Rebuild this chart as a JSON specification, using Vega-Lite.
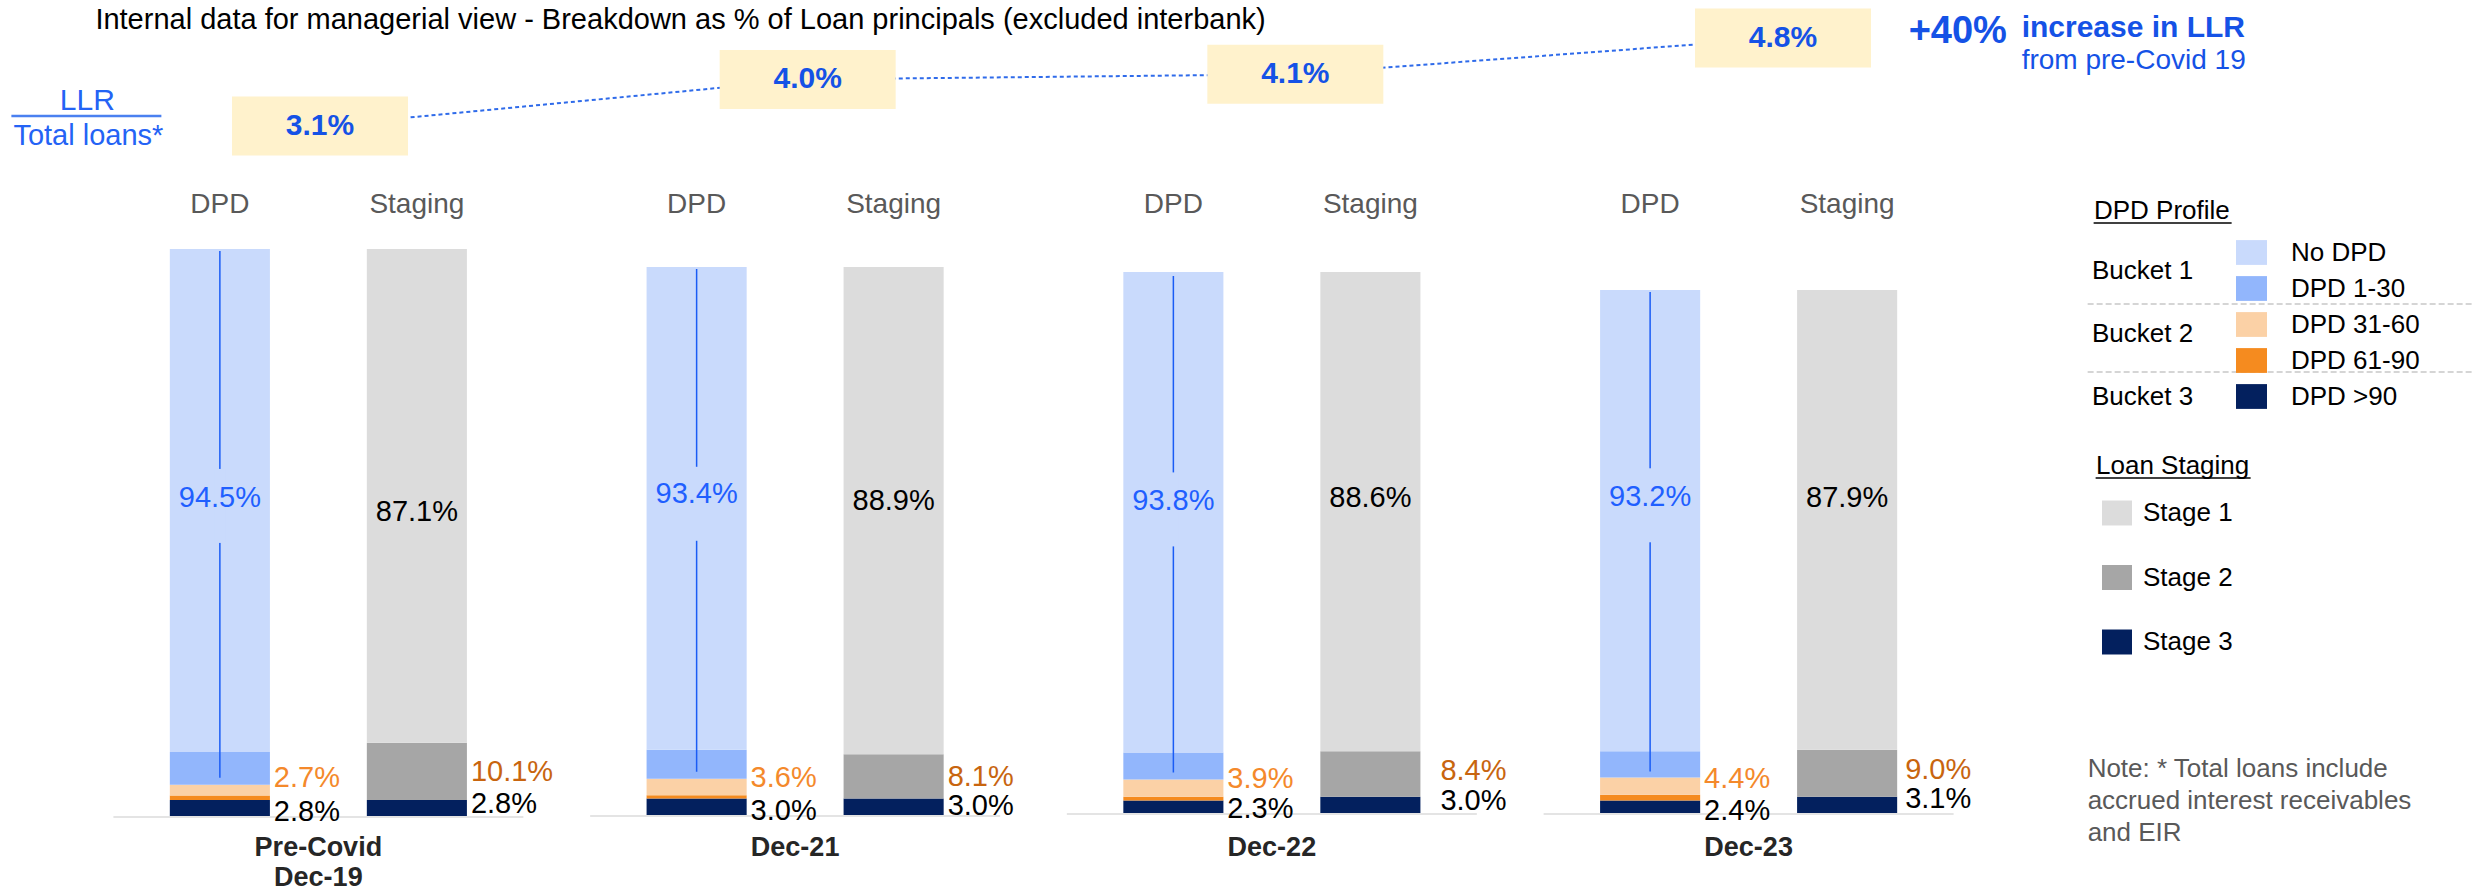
{
  "$schema": "https://vega.github.io/schema/vega-lite/v6.json",
  "width": 2484,
  "height": 891,
  "padding": 0,
  "autosize": {"type": "none"},
  "background": "#ffffff",
  "config": {
    "view": {"stroke": null},
    "font": "Liberation Sans",
    "legend": {"labelFont": "Liberation Sans", "titleFont": "Liberation Sans", "labelFontSize": 26, "titleFontSize": 26, "titleFontWeight": "normal", "labelColor": "#000000", "titleColor": "#000000", "padding": 0, "labelLimit": 400, "symbolStrokeWidth": 0}
  },
  "datasets": {
    "seg": [
      {"period": "Pre-Covid Dec-19", "bar": "DPD", "bucket": "Bucket 3", "segment": "DPD >90", "seq": 1, "value": 0.028},
      {"period": "Pre-Covid Dec-19", "bar": "DPD", "bucket": "Bucket 2", "segment": "DPD 61-90", "seq": 2, "value": 0.008},
      {"period": "Pre-Covid Dec-19", "bar": "DPD", "bucket": "Bucket 2", "segment": "DPD 31-60", "seq": 3, "value": 0.019},
      {"period": "Pre-Covid Dec-19", "bar": "DPD", "bucket": "Bucket 1", "segment": "DPD 1-30", "seq": 4, "value": 0.058},
      {"period": "Pre-Covid Dec-19", "bar": "DPD", "bucket": "Bucket 1", "segment": "No DPD", "seq": 5, "value": 0.887},
      {"period": "Pre-Covid Dec-19", "bar": "Staging", "segment": "Stage 3", "seq": 1, "value": 0.028},
      {"period": "Pre-Covid Dec-19", "bar": "Staging", "segment": "Stage 2", "seq": 2, "value": 0.101},
      {"period": "Pre-Covid Dec-19", "bar": "Staging", "segment": "Stage 1", "seq": 3, "value": 0.871},
      {"period": "Dec-21", "bar": "DPD", "bucket": "Bucket 3", "segment": "DPD >90", "seq": 1, "value": 0.030},
      {"period": "Dec-21", "bar": "DPD", "bucket": "Bucket 2", "segment": "DPD 61-90", "seq": 2, "value": 0.006},
      {"period": "Dec-21", "bar": "DPD", "bucket": "Bucket 2", "segment": "DPD 31-60", "seq": 3, "value": 0.030},
      {"period": "Dec-21", "bar": "DPD", "bucket": "Bucket 1", "segment": "DPD 1-30", "seq": 4, "value": 0.053},
      {"period": "Dec-21", "bar": "DPD", "bucket": "Bucket 1", "segment": "No DPD", "seq": 5, "value": 0.881},
      {"period": "Dec-21", "bar": "Staging", "segment": "Stage 3", "seq": 1, "value": 0.030},
      {"period": "Dec-21", "bar": "Staging", "segment": "Stage 2", "seq": 2, "value": 0.081},
      {"period": "Dec-21", "bar": "Staging", "segment": "Stage 1", "seq": 3, "value": 0.889},
      {"period": "Dec-22", "bar": "DPD", "bucket": "Bucket 3", "segment": "DPD >90", "seq": 1, "value": 0.023},
      {"period": "Dec-22", "bar": "DPD", "bucket": "Bucket 2", "segment": "DPD 61-90", "seq": 2, "value": 0.007},
      {"period": "Dec-22", "bar": "DPD", "bucket": "Bucket 2", "segment": "DPD 31-60", "seq": 3, "value": 0.032},
      {"period": "Dec-22", "bar": "DPD", "bucket": "Bucket 1", "segment": "DPD 1-30", "seq": 4, "value": 0.050},
      {"period": "Dec-22", "bar": "DPD", "bucket": "Bucket 1", "segment": "No DPD", "seq": 5, "value": 0.888},
      {"period": "Dec-22", "bar": "Staging", "segment": "Stage 3", "seq": 1, "value": 0.030},
      {"period": "Dec-22", "bar": "Staging", "segment": "Stage 2", "seq": 2, "value": 0.084},
      {"period": "Dec-22", "bar": "Staging", "segment": "Stage 1", "seq": 3, "value": 0.886},
      {"period": "Dec-23", "bar": "DPD", "bucket": "Bucket 3", "segment": "DPD >90", "seq": 1, "value": 0.024},
      {"period": "Dec-23", "bar": "DPD", "bucket": "Bucket 2", "segment": "DPD 61-90", "seq": 2, "value": 0.011},
      {"period": "Dec-23", "bar": "DPD", "bucket": "Bucket 2", "segment": "DPD 31-60", "seq": 3, "value": 0.033},
      {"period": "Dec-23", "bar": "DPD", "bucket": "Bucket 1", "segment": "DPD 1-30", "seq": 4, "value": 0.050},
      {"period": "Dec-23", "bar": "DPD", "bucket": "Bucket 1", "segment": "No DPD", "seq": 5, "value": 0.882},
      {"period": "Dec-23", "bar": "Staging", "segment": "Stage 3", "seq": 1, "value": 0.031},
      {"period": "Dec-23", "bar": "Staging", "segment": "Stage 2", "seq": 2, "value": 0.090},
      {"period": "Dec-23", "bar": "Staging", "segment": "Stage 1", "seq": 3, "value": 0.879}
    ],
    "llr": [
      {"period": "Pre-Covid Dec-19", "llr": 0.031},
      {"period": "Dec-21", "llr": 0.040},
      {"period": "Dec-22", "llr": 0.041},
      {"period": "Dec-23", "llr": 0.048}
    ],
    "notes": [
      {"id": "title", "text": "Internal data for managerial view -  Breakdown as % of Loan principals (excluded interbank)"},
      {"id": "llr", "text": "LLR"},
      {"id": "tot", "text": "Total loans*"},
      {"id": "plus", "text": "+40%"},
      {"id": "inc", "text": "increase in LLR"},
      {"id": "from", "text": "from pre-Covid 19"},
      {"id": "note", "text": "Note: * Total loans include\naccrued interest receivables\nand EIR"}
    ]
  },
  "data": {"name": "seg"},
  "resolve": {"scale": {"x": "independent", "y": "independent"}},
  "layer": [
    {
      "encoding": {"x": {"field": "period", "type": "nominal", "scale": {"type": "band", "domain": ["Pre-Covid Dec-19", "Dec-21", "Dec-22", "Dec-23"], "range": [80, 1987], "paddingInner": 0, "paddingOuter": 0}, "axis": null}},
      "layer": [
        {
          "transform": [{"aggregate": [{"op": "count", "as": "n"}], "groupby": ["period", "bar"]}],
          "mark": {"type": "text", "fontSize": 28, "color": "#595959", "baseline": "alphabetic", "dy": -36},
          "encoding": {
            "xOffset": {"field": "bar", "type": "nominal", "scale": {"type": "band", "domain": ["DPD", "Staging"], "paddingInner": 0.492, "paddingOuter": 0.456}},
            "y": {"datum": 1, "type": "quantitative", "scale": {"domain": [0, 1], "range": [816, 249], "nice": false}, "axis": null},
            "text": {"field": "bar", "type": "nominal"}
          }
        },
        {
          "transform": [{"aggregate": [{"op": "count", "as": "n"}], "groupby": ["period"]}],
          "mark": {"type": "text", "fontSize": 27, "fontWeight": "bold", "color": "#262626", "baseline": "middle", "lineBreak": " ", "lineHeight": 30, "dy": 32},
          "encoding": {
            "y": {"datum": 0, "type": "quantitative"},
            "text": {"field": "period", "type": "nominal"}
          }
        },
        {
          "data": {"name": "notes"},
          "transform": [{"filter": "datum.id === 'note'"}],
          "mark": {"type": "text", "align": "left", "baseline": "alphabetic", "fontSize": 26, "color": "#595959", "lineBreak": "\n", "lineHeight": 32, "dx": 339, "dy": -39},
          "encoding": {"x": {"datum": "Dec-23", "type": "nominal"}, "y": {"datum": 0, "type": "quantitative"}, "text": {"field": "text", "type": "nominal"}}
        },
        {
          "data": {"name": "notes"},
          "transform": [{"filter": "datum.id === 'title'"}],
          "mark": {"type": "text", "align": "left", "baseline": "alphabetic", "fontSize": 29, "color": "#000000", "dx": -223, "dy": -220},
          "encoding": {"x": {"datum": "Pre-Covid Dec-19", "type": "nominal"}, "y": {"datum": 1, "type": "quantitative"}, "text": {"field": "text", "type": "nominal"}}
        },
        {
          "data": {"name": "notes"},
          "transform": [{"filter": "datum.id === 'llr'"}],
          "mark": {"type": "text", "align": "center", "baseline": "alphabetic", "fontSize": 30, "color": "#2463f5", "dx": -231, "dy": -139},
          "encoding": {"x": {"datum": "Pre-Covid Dec-19", "type": "nominal"}, "y": {"datum": 1, "type": "quantitative"}, "text": {"field": "text", "type": "nominal"}}
        },
        {
          "data": {"name": "notes"},
          "transform": [{"filter": "datum.id === 'llr'"}],
          "mark": {"type": "rule", "color": "#4a80f0", "strokeWidth": 2.5, "xOffset": -307, "x2Offset": -157, "yOffset": -133},
          "encoding": {"x": {"datum": "Pre-Covid Dec-19", "type": "nominal"}, "x2": {"datum": "Pre-Covid Dec-19"}, "y": {"datum": 1, "type": "quantitative"}}
        },
        {
          "data": {"name": "notes"},
          "transform": [{"filter": "datum.id === 'tot'"}],
          "mark": {"type": "text", "align": "center", "baseline": "alphabetic", "fontSize": 29, "color": "#2463f5", "dx": -230, "dy": -104},
          "encoding": {"x": {"datum": "Pre-Covid Dec-19", "type": "nominal"}, "y": {"datum": 1, "type": "quantitative"}, "text": {"field": "text", "type": "nominal"}}
        },
        {
          "data": {"name": "notes"},
          "transform": [{"filter": "datum.id === 'plus'"}],
          "mark": {"type": "text", "align": "left", "baseline": "alphabetic", "fontSize": 38, "fontWeight": "bold", "color": "#1552e6", "dx": 160, "dy": -206},
          "encoding": {"x": {"datum": "Dec-23", "type": "nominal"}, "y": {"datum": 1, "type": "quantitative"}, "text": {"field": "text", "type": "nominal"}}
        },
        {
          "data": {"name": "notes"},
          "transform": [{"filter": "datum.id === 'inc'"}],
          "mark": {"type": "text", "align": "left", "baseline": "alphabetic", "fontSize": 30, "fontWeight": "bold", "color": "#1552e6", "dx": 273, "dy": -212},
          "encoding": {"x": {"datum": "Dec-23", "type": "nominal"}, "y": {"datum": 1, "type": "quantitative"}, "text": {"field": "text", "type": "nominal"}}
        },
        {
          "data": {"name": "notes"},
          "transform": [{"filter": "datum.id === 'from'"}],
          "mark": {"type": "text", "align": "left", "baseline": "alphabetic", "fontSize": 28, "color": "#1552e6", "dx": 273, "dy": -180},
          "encoding": {"x": {"datum": "Dec-23", "type": "nominal"}, "y": {"datum": 1, "type": "quantitative"}, "text": {"field": "text", "type": "nominal"}}
        },
        {
          "data": {"name": "notes"},
          "transform": [{"filter": "datum.id === 'note'"}],
          "mark": {"type": "rule", "color": "#c8c8c8", "strokeWidth": 1.5, "strokeDash": [6, 3], "xOffset": 339, "x2Offset": 723, "yOffset": 55},
          "encoding": {"x": {"datum": "Dec-23", "type": "nominal"}, "x2": {"datum": "Dec-23"}, "y": {"datum": 1, "type": "quantitative"}}
        },
        {
          "data": {"name": "notes"},
          "transform": [{"filter": "datum.id === 'note'"}],
          "mark": {"type": "rule", "color": "#c8c8c8", "strokeWidth": 1.5, "strokeDash": [6, 3], "xOffset": 339, "x2Offset": 723, "yOffset": 123},
          "encoding": {"x": {"datum": "Dec-23", "type": "nominal"}, "x2": {"datum": "Dec-23"}, "y": {"datum": 1, "type": "quantitative"}}
        },
        {
          "data": {"name": "notes"},
          "transform": [{"filter": "datum.id === 'note'"}],
          "mark": {"type": "rule", "color": "#000000", "strokeWidth": 1.5, "xOffset": 345, "x2Offset": 483, "yOffset": -26},
          "encoding": {"x": {"datum": "Dec-23", "type": "nominal"}, "x2": {"datum": "Dec-23"}, "y": {"datum": 1, "type": "quantitative"}}
        },
        {
          "data": {"name": "notes"},
          "transform": [{"filter": "datum.id === 'note'"}],
          "mark": {"type": "rule", "color": "#000000", "strokeWidth": 1.5, "xOffset": 347, "x2Offset": 502, "yOffset": 229},
          "encoding": {"x": {"datum": "Dec-23", "type": "nominal"}, "x2": {"datum": "Dec-23"}, "y": {"datum": 1, "type": "quantitative"}}
        }
      ]
    },
    {
      "transform": [{"filter": "datum.period === 'Pre-Covid Dec-19'"}],
      "encoding": {"x": {"field": "period", "type": "nominal", "scale": {"type": "band", "domain": ["Pre-Covid Dec-19", "Dec-21", "Dec-22", "Dec-23"], "range": [80, 1987], "paddingInner": 0, "paddingOuter": 0}, "axis": null}},
      "layer": [
        {
          "transform": [{"aggregate": [{"op": "count", "as": "n"}], "groupby": ["period"]}],
          "mark": {"type": "tick", "color": "#d9d9d9", "thickness": 2, "size": 410, "yOffset": 1},
          "encoding": {"y": {"datum": 0, "type": "quantitative", "scale": {"domain": [0, 1], "range": [816, 249], "nice": false}, "axis": null}}
        },
        {
          "transform": [{"filter": "datum.bar === 'DPD'"}],
          "mark": {"type": "bar"},
          "encoding": {
            "xOffset": {"field": "bar", "type": "nominal", "scale": {"type": "band", "domain": ["DPD", "Staging"], "paddingInner": 0.492, "paddingOuter": 0.456}},
            "y": {"field": "value", "type": "quantitative", "stack": "zero", "axis": null},
            "order": {"field": "seq", "type": "quantitative"},
            "color": {"field": "segment", "type": "nominal", "scale": {"domain": ["No DPD", "DPD 1-30", "DPD 31-60", "DPD 61-90", "DPD >90"], "range": ["#c9dafc", "#92b6fc", "#fbd1a6", "#f58b1f", "#03205e"]}, "legend": {"title": "DPD Profile", "orient": "none", "legendX": 2094, "legendY": 198, "symbolType": "M-1,-0.8H1V0.8H-1Z", "symbolSize": 961, "symbolOffset": 142, "labelOffset": 24, "rowPadding": 7, "titlePadding": 13}},
            "strokeDash": {"field": "bucket", "type": "nominal", "scale": {"domain": ["Bucket 1", "Bucket 2", "Bucket 3"], "range": [[1, 0], [1, 0], [1, 0]]}, "legend": {"title": null, "orient": "none", "legendX": 2066, "legendY": 258, "symbolType": "circle", "symbolSize": 1, "symbolOpacity": 0, "labelOffset": 0, "rowPadding": 37}}
          }
        },
        {
          "transform": [{"filter": "datum.bar === 'Staging'"}],
          "mark": {"type": "bar"},
          "encoding": {
            "xOffset": {"field": "bar", "type": "nominal"},
            "y": {"field": "value", "type": "quantitative", "stack": "zero", "axis": null},
            "order": {"field": "seq", "type": "quantitative"},
            "fill": {"field": "segment", "type": "nominal", "scale": {"domain": ["Stage 1", "Stage 2", "Stage 3"], "range": ["#dcdcdc", "#a6a6a6", "#03205e"]}, "legend": {"title": "Loan Staging", "orient": "none", "legendX": 2096, "legendY": 453, "symbolType": "M-1,-0.833H1V0.833H-1Z", "symbolSize": 900, "symbolOffset": 6, "labelOffset": 11, "rowPadding": 36.5, "titlePadding": 19}}
          }
        },
        {
          "transform": [{"filter": "datum.bar === 'DPD'"}, {"stack": "value", "groupby": ["period"], "sort": [{"field": "seq", "order": "ascending"}], "as": ["v0", "v1"]}, {"filter": "datum.segment === 'DPD 1-30'"}],
          "mark": {"type": "rule", "color": "#1a5cf5", "strokeWidth": 1.5, "yOffset": -7, "y2Offset": 2},
          "encoding": {"xOffset": {"field": "bar", "type": "nominal"}, "y": {"field": "v0", "type": "quantitative"}, "y2": {"datum": 1}}
        },
        {
          "transform": [{"filter": "datum.bar === 'DPD'"}, {"joinaggregate": [{"op": "sum", "field": "value", "as": "tot"}], "groupby": ["period", "bucket"]}, {"stack": "value", "groupby": ["period"], "sort": [{"field": "seq", "order": "ascending"}], "as": ["v0", "v1"]}],
          "encoding": {"xOffset": {"field": "bar", "type": "nominal"}, "y": {"field": "v0", "type": "quantitative"}},
          "layer": [
            {"transform": [{"filter": "datum.segment === 'No DPD'"}], "mark": {"type": "point", "filled": true, "opacity": 1, "shape": "M-0.15,-1H0.15V1H-0.15Z", "size": 5476, "color": "#c9dafc", "strokeWidth": 0, "yOffset": -246}},
            {"transform": [{"filter": "datum.segment === 'No DPD'"}], "mark": {"type": "text", "fontSize": 29, "color": "#1f5fff", "baseline": "middle", "dy": -254}, "encoding": {"text": {"field": "tot", "type": "quantitative", "format": ".1%"}}},
            {"transform": [{"filter": "datum.segment === 'DPD 31-60'"}], "mark": {"type": "text", "fontSize": 29, "color": "#f4892b", "align": "left", "baseline": "alphabetic", "dx": 54, "dy": -9}, "encoding": {"text": {"field": "tot", "type": "quantitative", "format": ".1%"}}},
            {"transform": [{"filter": "datum.segment === 'DPD >90'"}], "mark": {"type": "text", "fontSize": 29, "color": "#000000", "align": "left", "baseline": "middle", "dx": 54, "dy": -4}, "encoding": {"text": {"field": "value", "type": "quantitative", "format": ".1%"}}}
          ]
        },
        {
          "transform": [{"filter": "datum.bar === 'Staging'"}, {"stack": "value", "groupby": ["period"], "sort": [{"field": "seq", "order": "ascending"}], "as": ["v0", "v1"]}],
          "encoding": {"xOffset": {"field": "bar", "type": "nominal"}, "y": {"field": "v0", "type": "quantitative"}},
          "layer": [
            {"transform": [{"filter": "datum.segment === 'Stage 1'"}], "mark": {"type": "text", "fontSize": 29, "color": "#000000", "baseline": "middle", "dy": -231}, "encoding": {"text": {"field": "value", "type": "quantitative", "format": ".1%"}}},
            {"transform": [{"filter": "datum.segment === 'Stage 2'"}], "mark": {"type": "text", "fontSize": 29, "color": "#c8650f", "align": "left", "baseline": "middle", "dx": 54, "dy": -28}, "encoding": {"text": {"field": "value", "type": "quantitative", "format": ".1%"}}},
            {"transform": [{"filter": "datum.segment === 'Stage 3'"}], "mark": {"type": "text", "fontSize": 29, "color": "#000000", "align": "left", "baseline": "middle", "dx": 54, "dy": -12}, "encoding": {"text": {"field": "value", "type": "quantitative", "format": ".1%"}}}
          ]
        }
      ]
    },
    {
      "transform": [{"filter": "datum.period === 'Dec-21'"}],
      "encoding": {"x": {"field": "period", "type": "nominal", "scale": {"type": "band", "domain": ["Pre-Covid Dec-19", "Dec-21", "Dec-22", "Dec-23"], "range": [80, 1987], "paddingInner": 0, "paddingOuter": 0}, "axis": null}},
      "layer": [
        {
          "transform": [{"aggregate": [{"op": "count", "as": "n"}], "groupby": ["period"]}],
          "mark": {"type": "tick", "color": "#d9d9d9", "thickness": 2, "size": 410, "yOffset": 1},
          "encoding": {"y": {"datum": 0, "type": "quantitative", "scale": {"domain": [0, 1], "range": [815, 267], "nice": false}, "axis": null}}
        },
        {
          "transform": [{"filter": "datum.bar === 'DPD'"}],
          "mark": {"type": "bar"},
          "encoding": {
            "xOffset": {"field": "bar", "type": "nominal", "scale": {"type": "band", "domain": ["DPD", "Staging"], "paddingInner": 0.492, "paddingOuter": 0.456}},
            "y": {"field": "value", "type": "quantitative", "stack": "zero", "axis": null},
            "order": {"field": "seq", "type": "quantitative"},
            "color": {"field": "segment", "type": "nominal", "scale": {"domain": ["No DPD", "DPD 1-30", "DPD 31-60", "DPD 61-90", "DPD >90"], "range": ["#c9dafc", "#92b6fc", "#fbd1a6", "#f58b1f", "#03205e"]}, "legend": {"title": "DPD Profile", "orient": "none", "legendX": 2094, "legendY": 198, "symbolType": "M-1,-0.8H1V0.8H-1Z", "symbolSize": 961, "symbolOffset": 142, "labelOffset": 24, "rowPadding": 7, "titlePadding": 13}},
            "strokeDash": {"field": "bucket", "type": "nominal", "scale": {"domain": ["Bucket 1", "Bucket 2", "Bucket 3"], "range": [[1, 0], [1, 0], [1, 0]]}, "legend": {"title": null, "orient": "none", "legendX": 2066, "legendY": 258, "symbolType": "circle", "symbolSize": 1, "symbolOpacity": 0, "labelOffset": 0, "rowPadding": 37}}
          }
        },
        {
          "transform": [{"filter": "datum.bar === 'Staging'"}],
          "mark": {"type": "bar"},
          "encoding": {
            "xOffset": {"field": "bar", "type": "nominal"},
            "y": {"field": "value", "type": "quantitative", "stack": "zero", "axis": null},
            "order": {"field": "seq", "type": "quantitative"},
            "fill": {"field": "segment", "type": "nominal", "scale": {"domain": ["Stage 1", "Stage 2", "Stage 3"], "range": ["#dcdcdc", "#a6a6a6", "#03205e"]}, "legend": {"title": "Loan Staging", "orient": "none", "legendX": 2096, "legendY": 453, "symbolType": "M-1,-0.833H1V0.833H-1Z", "symbolSize": 900, "symbolOffset": 6, "labelOffset": 11, "rowPadding": 36.5, "titlePadding": 19}}
          }
        },
        {
          "transform": [{"filter": "datum.bar === 'DPD'"}, {"stack": "value", "groupby": ["period"], "sort": [{"field": "seq", "order": "ascending"}], "as": ["v0", "v1"]}, {"filter": "datum.segment === 'DPD 1-30'"}],
          "mark": {"type": "rule", "color": "#1a5cf5", "strokeWidth": 1.5, "yOffset": -7, "y2Offset": 2},
          "encoding": {"xOffset": {"field": "bar", "type": "nominal"}, "y": {"field": "v0", "type": "quantitative"}, "y2": {"datum": 1}}
        },
        {
          "transform": [{"filter": "datum.bar === 'DPD'"}, {"joinaggregate": [{"op": "sum", "field": "value", "as": "tot"}], "groupby": ["period", "bucket"]}, {"stack": "value", "groupby": ["period"], "sort": [{"field": "seq", "order": "ascending"}], "as": ["v0", "v1"]}],
          "encoding": {"xOffset": {"field": "bar", "type": "nominal"}, "y": {"field": "v0", "type": "quantitative"}},
          "layer": [
            {"transform": [{"filter": "datum.segment === 'No DPD'"}], "mark": {"type": "point", "filled": true, "opacity": 1, "shape": "M-0.15,-1H0.15V1H-0.15Z", "size": 5476, "color": "#c9dafc", "strokeWidth": 0, "yOffset": -246}},
            {"transform": [{"filter": "datum.segment === 'No DPD'"}], "mark": {"type": "text", "fontSize": 29, "color": "#1f5fff", "baseline": "middle", "dy": -256}, "encoding": {"text": {"field": "tot", "type": "quantitative", "format": ".1%"}}},
            {"transform": [{"filter": "datum.segment === 'DPD 31-60'"}], "mark": {"type": "text", "fontSize": 29, "color": "#f4892b", "align": "left", "baseline": "alphabetic", "dx": 54, "dy": -8}, "encoding": {"text": {"field": "tot", "type": "quantitative", "format": ".1%"}}},
            {"transform": [{"filter": "datum.segment === 'DPD >90'"}], "mark": {"type": "text", "fontSize": 29, "color": "#000000", "align": "left", "baseline": "middle", "dx": 54, "dy": -4}, "encoding": {"text": {"field": "value", "type": "quantitative", "format": ".1%"}}}
          ]
        },
        {
          "transform": [{"filter": "datum.bar === 'Staging'"}, {"stack": "value", "groupby": ["period"], "sort": [{"field": "seq", "order": "ascending"}], "as": ["v0", "v1"]}],
          "encoding": {"xOffset": {"field": "bar", "type": "nominal"}, "y": {"field": "v0", "type": "quantitative"}},
          "layer": [
            {"transform": [{"filter": "datum.segment === 'Stage 1'"}], "mark": {"type": "text", "fontSize": 29, "color": "#000000", "baseline": "middle", "dy": -253}, "encoding": {"text": {"field": "value", "type": "quantitative", "format": ".1%"}}},
            {"transform": [{"filter": "datum.segment === 'Stage 2'"}], "mark": {"type": "text", "fontSize": 29, "color": "#c8650f", "align": "left", "baseline": "middle", "dx": 54, "dy": -22}, "encoding": {"text": {"field": "value", "type": "quantitative", "format": ".1%"}}},
            {"transform": [{"filter": "datum.segment === 'Stage 3'"}], "mark": {"type": "text", "fontSize": 29, "color": "#000000", "align": "left", "baseline": "middle", "dx": 54, "dy": -9}, "encoding": {"text": {"field": "value", "type": "quantitative", "format": ".1%"}}}
          ]
        }
      ]
    },
    {
      "transform": [{"filter": "datum.period === 'Dec-22'"}],
      "encoding": {"x": {"field": "period", "type": "nominal", "scale": {"type": "band", "domain": ["Pre-Covid Dec-19", "Dec-21", "Dec-22", "Dec-23"], "range": [80, 1987], "paddingInner": 0, "paddingOuter": 0}, "axis": null}},
      "layer": [
        {
          "transform": [{"aggregate": [{"op": "count", "as": "n"}], "groupby": ["period"]}],
          "mark": {"type": "tick", "color": "#d9d9d9", "thickness": 2, "size": 410, "yOffset": 1},
          "encoding": {"y": {"datum": 0, "type": "quantitative", "scale": {"domain": [0, 1], "range": [813, 272], "nice": false}, "axis": null}}
        },
        {
          "transform": [{"filter": "datum.bar === 'DPD'"}],
          "mark": {"type": "bar"},
          "encoding": {
            "xOffset": {"field": "bar", "type": "nominal", "scale": {"type": "band", "domain": ["DPD", "Staging"], "paddingInner": 0.492, "paddingOuter": 0.456}},
            "y": {"field": "value", "type": "quantitative", "stack": "zero", "axis": null},
            "order": {"field": "seq", "type": "quantitative"},
            "color": {"field": "segment", "type": "nominal", "scale": {"domain": ["No DPD", "DPD 1-30", "DPD 31-60", "DPD 61-90", "DPD >90"], "range": ["#c9dafc", "#92b6fc", "#fbd1a6", "#f58b1f", "#03205e"]}, "legend": {"title": "DPD Profile", "orient": "none", "legendX": 2094, "legendY": 198, "symbolType": "M-1,-0.8H1V0.8H-1Z", "symbolSize": 961, "symbolOffset": 142, "labelOffset": 24, "rowPadding": 7, "titlePadding": 13}},
            "strokeDash": {"field": "bucket", "type": "nominal", "scale": {"domain": ["Bucket 1", "Bucket 2", "Bucket 3"], "range": [[1, 0], [1, 0], [1, 0]]}, "legend": {"title": null, "orient": "none", "legendX": 2066, "legendY": 258, "symbolType": "circle", "symbolSize": 1, "symbolOpacity": 0, "labelOffset": 0, "rowPadding": 37}}
          }
        },
        {
          "transform": [{"filter": "datum.bar === 'Staging'"}],
          "mark": {"type": "bar"},
          "encoding": {
            "xOffset": {"field": "bar", "type": "nominal"},
            "y": {"field": "value", "type": "quantitative", "stack": "zero", "axis": null},
            "order": {"field": "seq", "type": "quantitative"},
            "fill": {"field": "segment", "type": "nominal", "scale": {"domain": ["Stage 1", "Stage 2", "Stage 3"], "range": ["#dcdcdc", "#a6a6a6", "#03205e"]}, "legend": {"title": "Loan Staging", "orient": "none", "legendX": 2096, "legendY": 453, "symbolType": "M-1,-0.833H1V0.833H-1Z", "symbolSize": 900, "symbolOffset": 6, "labelOffset": 11, "rowPadding": 36.5, "titlePadding": 19}}
          }
        },
        {
          "transform": [{"filter": "datum.bar === 'DPD'"}, {"stack": "value", "groupby": ["period"], "sort": [{"field": "seq", "order": "ascending"}], "as": ["v0", "v1"]}, {"filter": "datum.segment === 'DPD 1-30'"}],
          "mark": {"type": "rule", "color": "#1a5cf5", "strokeWidth": 1.5, "yOffset": -7, "y2Offset": 4},
          "encoding": {"xOffset": {"field": "bar", "type": "nominal"}, "y": {"field": "v0", "type": "quantitative"}, "y2": {"datum": 1}}
        },
        {
          "transform": [{"filter": "datum.bar === 'DPD'"}, {"joinaggregate": [{"op": "sum", "field": "value", "as": "tot"}], "groupby": ["period", "bucket"]}, {"stack": "value", "groupby": ["period"], "sort": [{"field": "seq", "order": "ascending"}], "as": ["v0", "v1"]}],
          "encoding": {"xOffset": {"field": "bar", "type": "nominal"}, "y": {"field": "v0", "type": "quantitative"}},
          "layer": [
            {"transform": [{"filter": "datum.segment === 'No DPD'"}], "mark": {"type": "point", "filled": true, "opacity": 1, "shape": "M-0.15,-1H0.15V1H-0.15Z", "size": 5476, "color": "#c9dafc", "strokeWidth": 0, "yOffset": -243}},
            {"transform": [{"filter": "datum.segment === 'No DPD'"}], "mark": {"type": "text", "fontSize": 29, "color": "#1f5fff", "baseline": "middle", "dy": -251}, "encoding": {"text": {"field": "tot", "type": "quantitative", "format": ".1%"}}},
            {"transform": [{"filter": "datum.segment === 'DPD 31-60'"}], "mark": {"type": "text", "fontSize": 29, "color": "#f4892b", "align": "left", "baseline": "alphabetic", "dx": 54, "dy": -9}, "encoding": {"text": {"field": "tot", "type": "quantitative", "format": ".1%"}}},
            {"transform": [{"filter": "datum.segment === 'DPD >90'"}], "mark": {"type": "text", "fontSize": 29, "color": "#000000", "align": "left", "baseline": "middle", "dx": 54, "dy": -4}, "encoding": {"text": {"field": "value", "type": "quantitative", "format": ".1%"}}}
          ]
        },
        {
          "transform": [{"filter": "datum.bar === 'Staging'"}, {"stack": "value", "groupby": ["period"], "sort": [{"field": "seq", "order": "ascending"}], "as": ["v0", "v1"]}],
          "encoding": {"xOffset": {"field": "bar", "type": "nominal"}, "y": {"field": "v0", "type": "quantitative"}},
          "layer": [
            {"transform": [{"filter": "datum.segment === 'Stage 1'"}], "mark": {"type": "text", "fontSize": 29, "color": "#000000", "baseline": "middle", "dy": -253}, "encoding": {"text": {"field": "value", "type": "quantitative", "format": ".1%"}}},
            {"transform": [{"filter": "datum.segment === 'Stage 2'"}], "mark": {"type": "text", "fontSize": 29, "color": "#c8650f", "align": "left", "baseline": "middle", "dx": 70, "dy": -26}, "encoding": {"text": {"field": "value", "type": "quantitative", "format": ".1%"}}},
            {"transform": [{"filter": "datum.segment === 'Stage 3'"}], "mark": {"type": "text", "fontSize": 29, "color": "#000000", "align": "left", "baseline": "middle", "dx": 70, "dy": -12}, "encoding": {"text": {"field": "value", "type": "quantitative", "format": ".1%"}}}
          ]
        }
      ]
    },
    {
      "transform": [{"filter": "datum.period === 'Dec-23'"}],
      "encoding": {"x": {"field": "period", "type": "nominal", "scale": {"type": "band", "domain": ["Pre-Covid Dec-19", "Dec-21", "Dec-22", "Dec-23"], "range": [80, 1987], "paddingInner": 0, "paddingOuter": 0}, "axis": null}},
      "layer": [
        {
          "transform": [{"aggregate": [{"op": "count", "as": "n"}], "groupby": ["period"]}],
          "mark": {"type": "tick", "color": "#d9d9d9", "thickness": 2, "size": 410, "yOffset": 1},
          "encoding": {"y": {"datum": 0, "type": "quantitative", "scale": {"domain": [0, 1], "range": [813, 290], "nice": false}, "axis": null}}
        },
        {
          "transform": [{"filter": "datum.bar === 'DPD'"}],
          "mark": {"type": "bar"},
          "encoding": {
            "xOffset": {"field": "bar", "type": "nominal", "scale": {"type": "band", "domain": ["DPD", "Staging"], "paddingInner": 0.492, "paddingOuter": 0.456}},
            "y": {"field": "value", "type": "quantitative", "stack": "zero", "axis": null},
            "order": {"field": "seq", "type": "quantitative"},
            "color": {"field": "segment", "type": "nominal", "scale": {"domain": ["No DPD", "DPD 1-30", "DPD 31-60", "DPD 61-90", "DPD >90"], "range": ["#c9dafc", "#92b6fc", "#fbd1a6", "#f58b1f", "#03205e"]}, "legend": {"title": "DPD Profile", "orient": "none", "legendX": 2094, "legendY": 198, "symbolType": "M-1,-0.8H1V0.8H-1Z", "symbolSize": 961, "symbolOffset": 142, "labelOffset": 24, "rowPadding": 7, "titlePadding": 13}},
            "strokeDash": {"field": "bucket", "type": "nominal", "scale": {"domain": ["Bucket 1", "Bucket 2", "Bucket 3"], "range": [[1, 0], [1, 0], [1, 0]]}, "legend": {"title": null, "orient": "none", "legendX": 2066, "legendY": 258, "symbolType": "circle", "symbolSize": 1, "symbolOpacity": 0, "labelOffset": 0, "rowPadding": 37}}
          }
        },
        {
          "transform": [{"filter": "datum.bar === 'Staging'"}],
          "mark": {"type": "bar"},
          "encoding": {
            "xOffset": {"field": "bar", "type": "nominal"},
            "y": {"field": "value", "type": "quantitative", "stack": "zero", "axis": null},
            "order": {"field": "seq", "type": "quantitative"},
            "fill": {"field": "segment", "type": "nominal", "scale": {"domain": ["Stage 1", "Stage 2", "Stage 3"], "range": ["#dcdcdc", "#a6a6a6", "#03205e"]}, "legend": {"title": "Loan Staging", "orient": "none", "legendX": 2096, "legendY": 453, "symbolType": "M-1,-0.833H1V0.833H-1Z", "symbolSize": 900, "symbolOffset": 6, "labelOffset": 11, "rowPadding": 36.5, "titlePadding": 19}}
          }
        },
        {
          "transform": [{"filter": "datum.bar === 'DPD'"}, {"stack": "value", "groupby": ["period"], "sort": [{"field": "seq", "order": "ascending"}], "as": ["v0", "v1"]}, {"filter": "datum.segment === 'DPD 1-30'"}],
          "mark": {"type": "rule", "color": "#1a5cf5", "strokeWidth": 1.5, "yOffset": -6, "y2Offset": 2},
          "encoding": {"xOffset": {"field": "bar", "type": "nominal"}, "y": {"field": "v0", "type": "quantitative"}, "y2": {"datum": 1}}
        },
        {
          "transform": [{"filter": "datum.bar === 'DPD'"}, {"joinaggregate": [{"op": "sum", "field": "value", "as": "tot"}], "groupby": ["period", "bucket"]}, {"stack": "value", "groupby": ["period"], "sort": [{"field": "seq", "order": "ascending"}], "as": ["v0", "v1"]}],
          "encoding": {"xOffset": {"field": "bar", "type": "nominal"}, "y": {"field": "v0", "type": "quantitative"}},
          "layer": [
            {"transform": [{"filter": "datum.segment === 'No DPD'"}], "mark": {"type": "point", "filled": true, "opacity": 1, "shape": "M-0.15,-1H0.15V1H-0.15Z", "size": 5476, "color": "#c9dafc", "strokeWidth": 0, "yOffset": -246}},
            {"transform": [{"filter": "datum.segment === 'No DPD'"}], "mark": {"type": "text", "fontSize": 29, "color": "#1f5fff", "baseline": "middle", "dy": -254}, "encoding": {"text": {"field": "tot", "type": "quantitative", "format": ".1%"}}},
            {"transform": [{"filter": "datum.segment === 'DPD 31-60'"}], "mark": {"type": "text", "fontSize": 29, "color": "#f4892b", "align": "left", "baseline": "alphabetic", "dx": 54, "dy": -7}, "encoding": {"text": {"field": "tot", "type": "quantitative", "format": ".1%"}}},
            {"transform": [{"filter": "datum.segment === 'DPD >90'"}], "mark": {"type": "text", "fontSize": 29, "color": "#000000", "align": "left", "baseline": "middle", "dx": 54, "dy": -2}, "encoding": {"text": {"field": "value", "type": "quantitative", "format": ".1%"}}}
          ]
        },
        {
          "transform": [{"filter": "datum.bar === 'Staging'"}, {"stack": "value", "groupby": ["period"], "sort": [{"field": "seq", "order": "ascending"}], "as": ["v0", "v1"]}],
          "encoding": {"xOffset": {"field": "bar", "type": "nominal"}, "y": {"field": "v0", "type": "quantitative"}},
          "layer": [
            {"transform": [{"filter": "datum.segment === 'Stage 1'"}], "mark": {"type": "text", "fontSize": 29, "color": "#000000", "baseline": "middle", "dy": -252}, "encoding": {"text": {"field": "value", "type": "quantitative", "format": ".1%"}}},
            {"transform": [{"filter": "datum.segment === 'Stage 2'"}], "mark": {"type": "text", "fontSize": 29, "color": "#c8650f", "align": "left", "baseline": "middle", "dx": 58, "dy": -27}, "encoding": {"text": {"field": "value", "type": "quantitative", "format": ".1%"}}},
            {"transform": [{"filter": "datum.segment === 'Stage 3'"}], "mark": {"type": "text", "fontSize": 29, "color": "#000000", "align": "left", "baseline": "middle", "dx": 58, "dy": -14}, "encoding": {"text": {"field": "value", "type": "quantitative", "format": ".1%"}}}
          ]
        }
      ]
    },
    {
      "data": {"name": "llr"},
      "encoding": {
        "x": {"field": "period", "type": "nominal", "scale": {"type": "point", "domain": ["Pre-Covid Dec-19", "Dec-21", "Dec-22", "Dec-23"], "range": [320, 1783], "padding": 0}, "axis": null},
        "y": {"field": "llr", "type": "quantitative", "scale": {"domain": [0.031, 0.048], "range": [126, 38], "nice": false, "zero": false}, "axis": null}
      },
      "layer": [
        {"mark": {"type": "line", "color": "#2f6bea", "strokeWidth": 2, "strokeDash": [4, 3]}, "encoding": {"order": {"value": null}}},
        {"mark": {"type": "point", "filled": true, "shape": "M-1,-0.335H1V0.335H-1Z", "size": 30976, "color": "#fff2cc", "opacity": 1, "strokeWidth": 0}},
        {"mark": {"type": "text", "fontSize": 30, "fontWeight": "bold", "color": "#1552e6"}, "encoding": {"text": {"field": "llr", "type": "quantitative", "format": ".1%"}}}
      ]
    }
  ]
}
